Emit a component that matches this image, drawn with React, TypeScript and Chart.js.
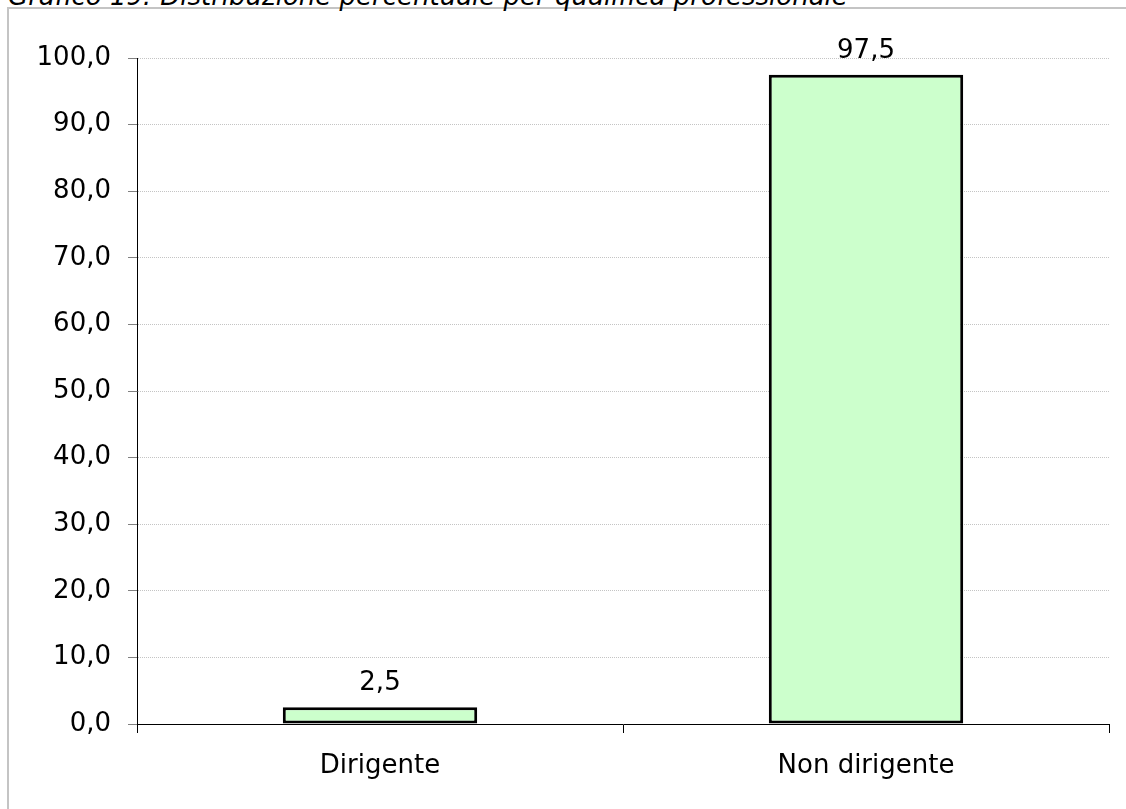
import React, { useEffect, useRef } from "react";
import { Chart, registerables } from "chart.js";

Chart.register(...registerables);

const title = "Grafico 19: Distribuzione percentuale per qualifica professionale";
const categories = ["Dirigente", "Non dirigente"];
const values = [2.5, 97.5];
const yMin = 0;
const yMax = 100;
const yStep = 10;

const FONT = "'DejaVu Sans', Verdana, sans-serif";
const FS = 26;
const fmt = (v: number) => v.toFixed(1).replace(".", ",");

const valueLabels = {
  id: "valueLabels",
  afterDatasetsDraw(chart: any) {
    const ctx = chart.ctx;
    const meta = chart.getDatasetMeta(0);
    ctx.save();
    ctx.font = `${FS}px ${FONT}`;
    ctx.fillStyle = "#000";
    ctx.textAlign = "center";
    ctx.textBaseline = "alphabetic";
    meta.data.forEach((bar: any, i: number) => {
      ctx.fillText(fmt(values[i]), bar.x, bar.y - 17);
    });
    ctx.restore();
  },
};

export default function App() {
  const ref = useRef<HTMLCanvasElement | null>(null);

  useEffect(() => {
    if (!ref.current) return;
    const chart = new Chart(ref.current, {
      type: "bar",
      data: {
        labels: categories,
        datasets: [
          {
            data: values,
            backgroundColor: "#ccffcc",
            borderColor: "#000000",
            borderWidth: 3,
            borderSkipped: false,
            barPercentage: 0.4,
            categoryPercentage: 1,
          },
        ],
      },
      options: {
        animation: false,
        responsive: false,
        devicePixelRatio: 1,
        layout: { padding: { left: 0, top: 58, right: 17, bottom: 0 } },
        plugins: {
          legend: { display: false },
          tooltip: { enabled: false },
          title: { display: false },
        },
        scales: {
          x: {
            afterFit: (s: any) => {
              s.height = 85;
            },
            grid: {
              offset: true,
              drawOnChartArea: false,
              drawTicks: true,
              tickLength: 9,
              tickColor: "#000",
              color: "#000",
            },
            border: { display: true, color: "#000", width: 1 },
            ticks: {
              padding: 18,
              color: "#000",
              font: { family: FONT, size: FS },
            },
          },
          y: {
            min: yMin,
            max: yMax,
            afterFit: (s: any) => {
              s.width = 137;
            },
            grid: {
              color: (c: any) => (c.tick && c.tick.value === 0 ? "rgba(0,0,0,0)" : "#c4c4c4"),
              lineWidth: 1,
              drawTicks: true,
              tickLength: 9,
              tickColor: "#808080",
            },
            border: { display: true, color: "#000", width: 1, dash: [1, 1] },
            ticks: {
              stepSize: yStep,
              padding: 17,
              color: "#000",
              font: { family: FONT, size: FS },
              callback: (v: any) => fmt(Number(v)),
            },
          },
        },
      },
      plugins: [valueLabels],
    });
    return () => chart.destroy();
  }, []);

  return (
    <div
      style={{
        position: "fixed",
        left: 0,
        top: 0,
        width: 1126,
        height: 809,
        overflow: "hidden",
        background: "#fff",
      }}
    >
      <div
        style={{
          position: "absolute",
          left: 7,
          top: 7,
          width: 1300,
          height: 1000,
          border: "2px solid #c4c4c4",
          boxSizing: "border-box",
        }}
      />
      <div
        style={{
          position: "absolute",
          left: 8,
          top: -17,
          fontFamily: FONT,
          fontStyle: "italic",
          fontSize: FS,
          lineHeight: `${FS}px`,
          whiteSpace: "nowrap",
          color: "#000",
        }}
      >
        {title}
      </div>
      <canvas
        ref={ref}
        width={1126}
        height={809}
        style={{ position: "absolute", left: 0, top: 0, width: 1126, height: 809 }}
      />
    </div>
  );
}
